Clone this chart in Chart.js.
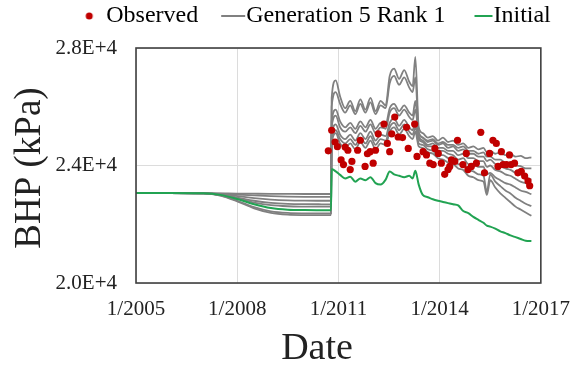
<!DOCTYPE html>
<html>
<head>
<meta charset="utf-8">
<script src="https://cdn.jsdelivr.net/npm/chart.js@4.4.1/dist/chart.umd.min.js"></script>
<style>
  html, body { margin: 0; padding: 0; background: #fff; }
  #wrap { width: 584px; height: 366px; }
</style>
</head>
<body>
<div id="wrap"><canvas id="bhp-chart" width="584" height="366"></canvas></div>
<script>
// Simulation output dates (decimal years)
const simDates = [
  2005, 2006, 2007, 2007.5, 2008, 2008.5, 2009, 2009.5, 2010, 2010.5, 2010.78,
  2010.8, 2010.92, 2011.05, 2011.2, 2011.35, 2011.5, 2011.65, 2011.8, 2011.95, 2012.1,
  2012.25, 2012.4, 2012.52, 2012.65, 2012.8, 2012.95, 2013.1, 2013.2, 2013.28, 2013.38,
  2013.5, 2013.65, 2013.8, 2013.95, 2014.1, 2014.25, 2014.4, 2014.55, 2014.7, 2014.85,
  2015.0, 2015.15, 2015.3, 2015.4, 2015.5, 2015.65, 2015.8, 2015.95, 2016.1, 2016.25,
  2016.4, 2016.55, 2016.72
];

// Initial model BHP (kPa)
const initialBHP = [
  23060, 23060, 23052, 23000, 22860, 22680, 22550, 22495, 22482, 22480, 22480,
  23880, 23800, 23680, 23560, 23620, 23450, 23560, 23500, 23600, 23400,
  23350, 23520, 23800, 23700, 23650, 23600, 23650, 23560, 23820, 23350,
  23000, 22920, 22850, 22800, 22760, 22720, 22680, 22640, 22450, 22380,
  22250, 22150, 22050, 21950, 21920, 21850, 21760, 21700, 21620, 21560,
  21500, 21440, 21430
];

// Generation 5, rank 1 models (kPa)
const gen5RunA = [
  23060, 23060, 23058, 23052, 23045, 23040, 23035, 23032, 23030, 23030, 23030,
  26300, 26900, 26350, 25950, 26200, 25850, 26250, 25900, 26300, 25850,
  26200, 26050, 27050, 27300, 26950, 27250, 26850, 26700, 27700, 25300,
  25100, 24950, 25000, 24850, 24950, 24800, 24850, 24700, 24750, 24600,
  24650, 24550, 24600, 24450, 24500, 24400, 24450, 24350, 24400, 24300,
  24330, 24250, 24280
];
const gen5RunB = [
  23060, 23060, 23055, 23025, 22960, 22890, 22840, 22812, 22802, 22800, 22800,
  26000, 26500, 26100, 25800, 26050, 25750, 26100, 25800, 26150, 25750,
  26050, 25950, 26800, 27050, 26750, 27000, 26650, 26500, 27000, 25150,
  24950, 24800, 24850, 24700, 24750, 24600, 24650, 24500, 24550, 24400,
  24400, 24300, 24300, 24150, 24200, 24050, 24000, 23900, 23850, 23750,
  23700, 23600, 23520
];
const gen5RunC = [
  23060, 23060, 23053, 23010, 22910, 22800, 22730, 22695, 22683, 22680, 22680,
  25500, 25900, 25500, 25300, 25450, 25250, 25500, 25300, 25550, 25250,
  25450, 25400, 25950, 26100, 25850, 26050, 25800, 25700, 26200, 25000,
  24850, 24700, 24750, 24600, 24600, 24500, 24500, 24350, 24400, 24250,
  24250, 24150, 24150, 23950, 24000, 23850, 23800, 23700, 23650, 23550,
  23450, 23400, 23320
];
const gen5RunD = [
  23060, 23060, 23056, 23040, 23010, 22980, 22955, 22940, 22932, 22930, 22930,
  25300, 25700, 25300, 25150, 25300, 25100, 25350, 25150, 25400, 25100,
  25300, 25250, 25800, 25950, 25700, 25900, 25650, 25550, 25900, 25100,
  24950, 24850, 24900, 24750, 24800, 24700, 24700, 24600, 24650, 24500,
  24500, 24400, 24450, 24300, 24300, 24200, 24200, 24100, 24100, 24000,
  23980, 23900, 23900
];
const gen5RunE = [
  23060, 23060, 23052, 23000, 22880, 22740, 22650, 22612, 22602, 22600, 22600,
  25000, 25400, 25050, 24900, 25050, 24850, 25100, 24900, 25150, 24850,
  25050, 25000, 25450, 25600, 25350, 25550, 25300, 25200, 25500, 24900,
  24800, 24650, 24650, 24500, 24500, 24400, 24350, 24200, 24250, 24050,
  24050, 23950, 23950, 23700, 23750, 23600, 23500, 23400, 23350, 23250,
  23150, 23100, 23020
];
const gen5RunF = [
  23060, 23060, 23050, 22980, 22800, 22580, 22440, 22385, 22372, 22370, 22370,
  24850, 25200, 24900, 24750, 24900, 24700, 24950, 24750, 25000, 24700,
  24900, 24850, 25300, 25450, 25200, 25400, 25150, 25050, 25300, 24750,
  24700, 24550, 24500, 24350, 24350, 24250, 24200, 24050, 24050, 23850,
  23800, 23700, 23650, 23100, 23700, 23450, 23300, 23150, 23050, 22900,
  22800, 22700, 22620
];
const gen5RunG = [
  23060, 23060, 23049, 22975, 22780, 22540, 22385, 22325, 22312, 22310, 22310,
  24700, 25100, 24750, 24600, 24750, 24550, 24800, 24600, 24850, 24550,
  24750, 24700, 25150, 25300, 25050, 25250, 25000, 24900, 25150, 24650,
  24600, 24450, 24400, 24250, 24200, 24100, 24050, 23900, 23850, 23650,
  23600, 23500, 23450, 23000, 23500, 23250, 23050, 22900, 22750, 22600,
  22500, 22400, 22290
];

// Observed BHP
const obsDates = [
  2010.70, 2010.80, 2010.90, 2010.97, 2011.08, 2011.15, 2011.20, 2011.28, 2011.35, 2011.40,
  2011.57, 2011.65, 2011.79, 2011.86, 2011.94, 2012.03, 2012.10, 2012.18, 2012.35, 2012.45,
  2012.52, 2012.58, 2012.67, 2012.77, 2012.90, 2013.02, 2013.07, 2013.26, 2013.33, 2013.51,
  2013.61, 2013.71, 2013.81, 2013.86, 2013.96, 2014.05, 2014.15, 2014.25, 2014.30, 2014.35,
  2014.45, 2014.53, 2014.69, 2014.79, 2014.84, 2014.94, 2015.09, 2015.22, 2015.33, 2015.48,
  2015.58, 2015.68, 2015.73, 2015.83, 2015.88, 2015.98, 2016.07, 2016.12, 2016.22, 2016.32,
  2016.42, 2016.52, 2016.62, 2016.67
];
const obsBHP = [
  24500, 25200, 24800, 24640, 24190, 24030, 24630, 24520, 23860, 24140,
  24520, 24860, 23970, 24400, 24470, 24080, 24520, 25080, 25410, 24750,
  24470, 25080, 25650, 24970, 24950, 25300, 24580, 25410, 24310, 24470,
  24360, 24080, 24030, 24580, 24410, 24080, 23700, 23860, 23970, 24190,
  24140, 24860, 24030, 24410, 23860, 23970, 24080, 25130, 23750, 24410,
  24860, 24750, 23970, 24470, 24030, 24030, 24360, 24030, 24080, 23750,
  23800, 23640, 23470, 23310
];

const xTicks = [2005, 2008, 2011, 2014, 2017];
const yTicks = [20000, 24000, 28000];

const RED = '#c00000';
const GRAY = '#808080';
const GREEN = '#21a352';
const TEXT = '#222222';
const SERIF = '"Liberation Serif", "Times New Roman", serif';

const pair = (xs, ys) => xs.map((x, i) => ({ x, y: ys[i] }));

// legend markers: small canvases so the mark sits right before the text
function legendMark(kind, color, from, to) {
  const c = document.createElement('canvas');
  c.width = 56; c.height = 12;
  const g = c.getContext('2d');
  if (kind === 'dot') {
    g.fillStyle = color;
    g.beginPath();
    g.arc(from, 6, 3.5, 0, Math.PI * 2);
    g.fill();
  } else {
    g.strokeStyle = color;
    g.lineWidth = 2;
    g.beginPath();
    g.moveTo(from, 6);
    g.lineTo(to, 6);
    g.stroke();
  }
  return c;
}

// legend: extra room under it, and nudged right like the original figure
const legendPlace = {
  id: 'legendPlace',
  afterInit(chart) {
    const fit = chart.legend.fit;
    chart.legend.fit = function () {
      fit.call(this);
      this.height += 10;
    };
  },
  afterLayout(chart) {
    chart.legend.left += 35;
    chart.legend.right += 35;
  }
};

const plotFrame = {
  id: 'plotFrame',
  afterDatasetsDraw(chart) {
    const { ctx, chartArea: a } = chart;
    ctx.save();
    ctx.strokeStyle = '#404040';
    ctx.lineWidth = 1.6;
    ctx.strokeRect(a.left, a.top, a.right - a.left, a.bottom - a.top);
    ctx.restore();
  }
};

const axisTitles = {
  id: 'axisTitles',
  afterDraw(chart) {
    const ctx = chart.ctx;
    ctx.save();
    ctx.fillStyle = TEXT;
    ctx.textAlign = 'center';
    ctx.textBaseline = 'middle';
    ctx.font = '37px ' + SERIF;
    ctx.save();
    ctx.translate(30, 168);
    ctx.rotate(-Math.PI / 2);
    ctx.fillText('BHP (kPa)', 0, 0);
    ctx.restore();
    ctx.font = '38px ' + SERIF;
    ctx.fillText('Date', 317, 349);
    ctx.restore();
  }
};

const genRuns = [gen5RunA, gen5RunB, gen5RunC, gen5RunD, gen5RunE, gen5RunF, gen5RunG];

const datasets = [
  {
    label: 'Observed',
    data: pair(obsDates, obsBHP),
    showLine: false,
    pointRadius: 3.6,
    pointBorderWidth: 0,
    pointBackgroundColor: RED,
    order: 0
  },
  {
    label: 'Initial',
    data: pair(simDates, initialBHP),
    borderColor: GREEN,
    borderWidth: 2,
    pointRadius: 0,
    cubicInterpolationMode: 'monotone',
    order: 1
  },
  ...genRuns.map(run => ({
    label: 'Generation 5 Rank 1',
    data: pair(simDates, run),
    borderColor: GRAY,
    borderWidth: 1.8,
    pointRadius: 0,
    cubicInterpolationMode: 'monotone',
    order: 2
  }))
];

new Chart(document.getElementById('bhp-chart'), {
  type: 'line',
  data: { datasets },
  plugins: [legendPlace, plotFrame, axisTitles],
  options: {
    responsive: false,
    animation: false,
    layout: { padding: { left: 0, right: 41, top: 0, bottom: 0 } },
    plugins: {
      tooltip: { enabled: false },
      legend: {
        position: 'top',
        labels: {
          usePointStyle: true,
          pointStyleWidth: 32,
          padding: 4,
          color: TEXT,
          font: { family: SERIF, size: 24 },
          generateLabels: () => [
            { text: 'Observed', pointStyle: legendMark('dot', RED, 39), lineWidth: 0, datasetIndex: 0 },
            { text: 'Generation 5 Rank 1', pointStyle: legendMark('line', GRAY, 31, 55), lineWidth: 0, datasetIndex: 2 },
            { text: 'Initial', pointStyle: legendMark('line', GREEN, 37, 55), lineWidth: 0, datasetIndex: 1 }
          ]
        }
      }
    },
    scales: {
      x: {
        type: 'linear',
        min: 2005,
        max: 2017,
        afterBuildTicks: s => { s.ticks = xTicks.map(v => ({ value: v })); },
        afterFit: s => { s.height = 83; },
        grid: { color: '#dcdcdc', drawTicks: false },
        border: { display: false },
        ticks: {
          padding: 14,
          color: TEXT,
          font: { family: SERIF, size: 21 },
          maxRotation: 0,
          callback: v => '1/' + v
        }
      },
      y: {
        min: 20000,
        max: 28000,
        afterBuildTicks: s => { s.ticks = yTicks.map(v => ({ value: v })); },
        afterFit: s => { s.width = 136; },
        grid: { color: '#dcdcdc', drawTicks: false },
        border: { display: false },
        ticks: {
          padding: 19,
          color: TEXT,
          font: { family: SERIF, size: 21 },
          callback: v => (v / 10000).toFixed(1) + 'E+4'
        }
      }
    }
  }
});
</script>
</body>
</html>
